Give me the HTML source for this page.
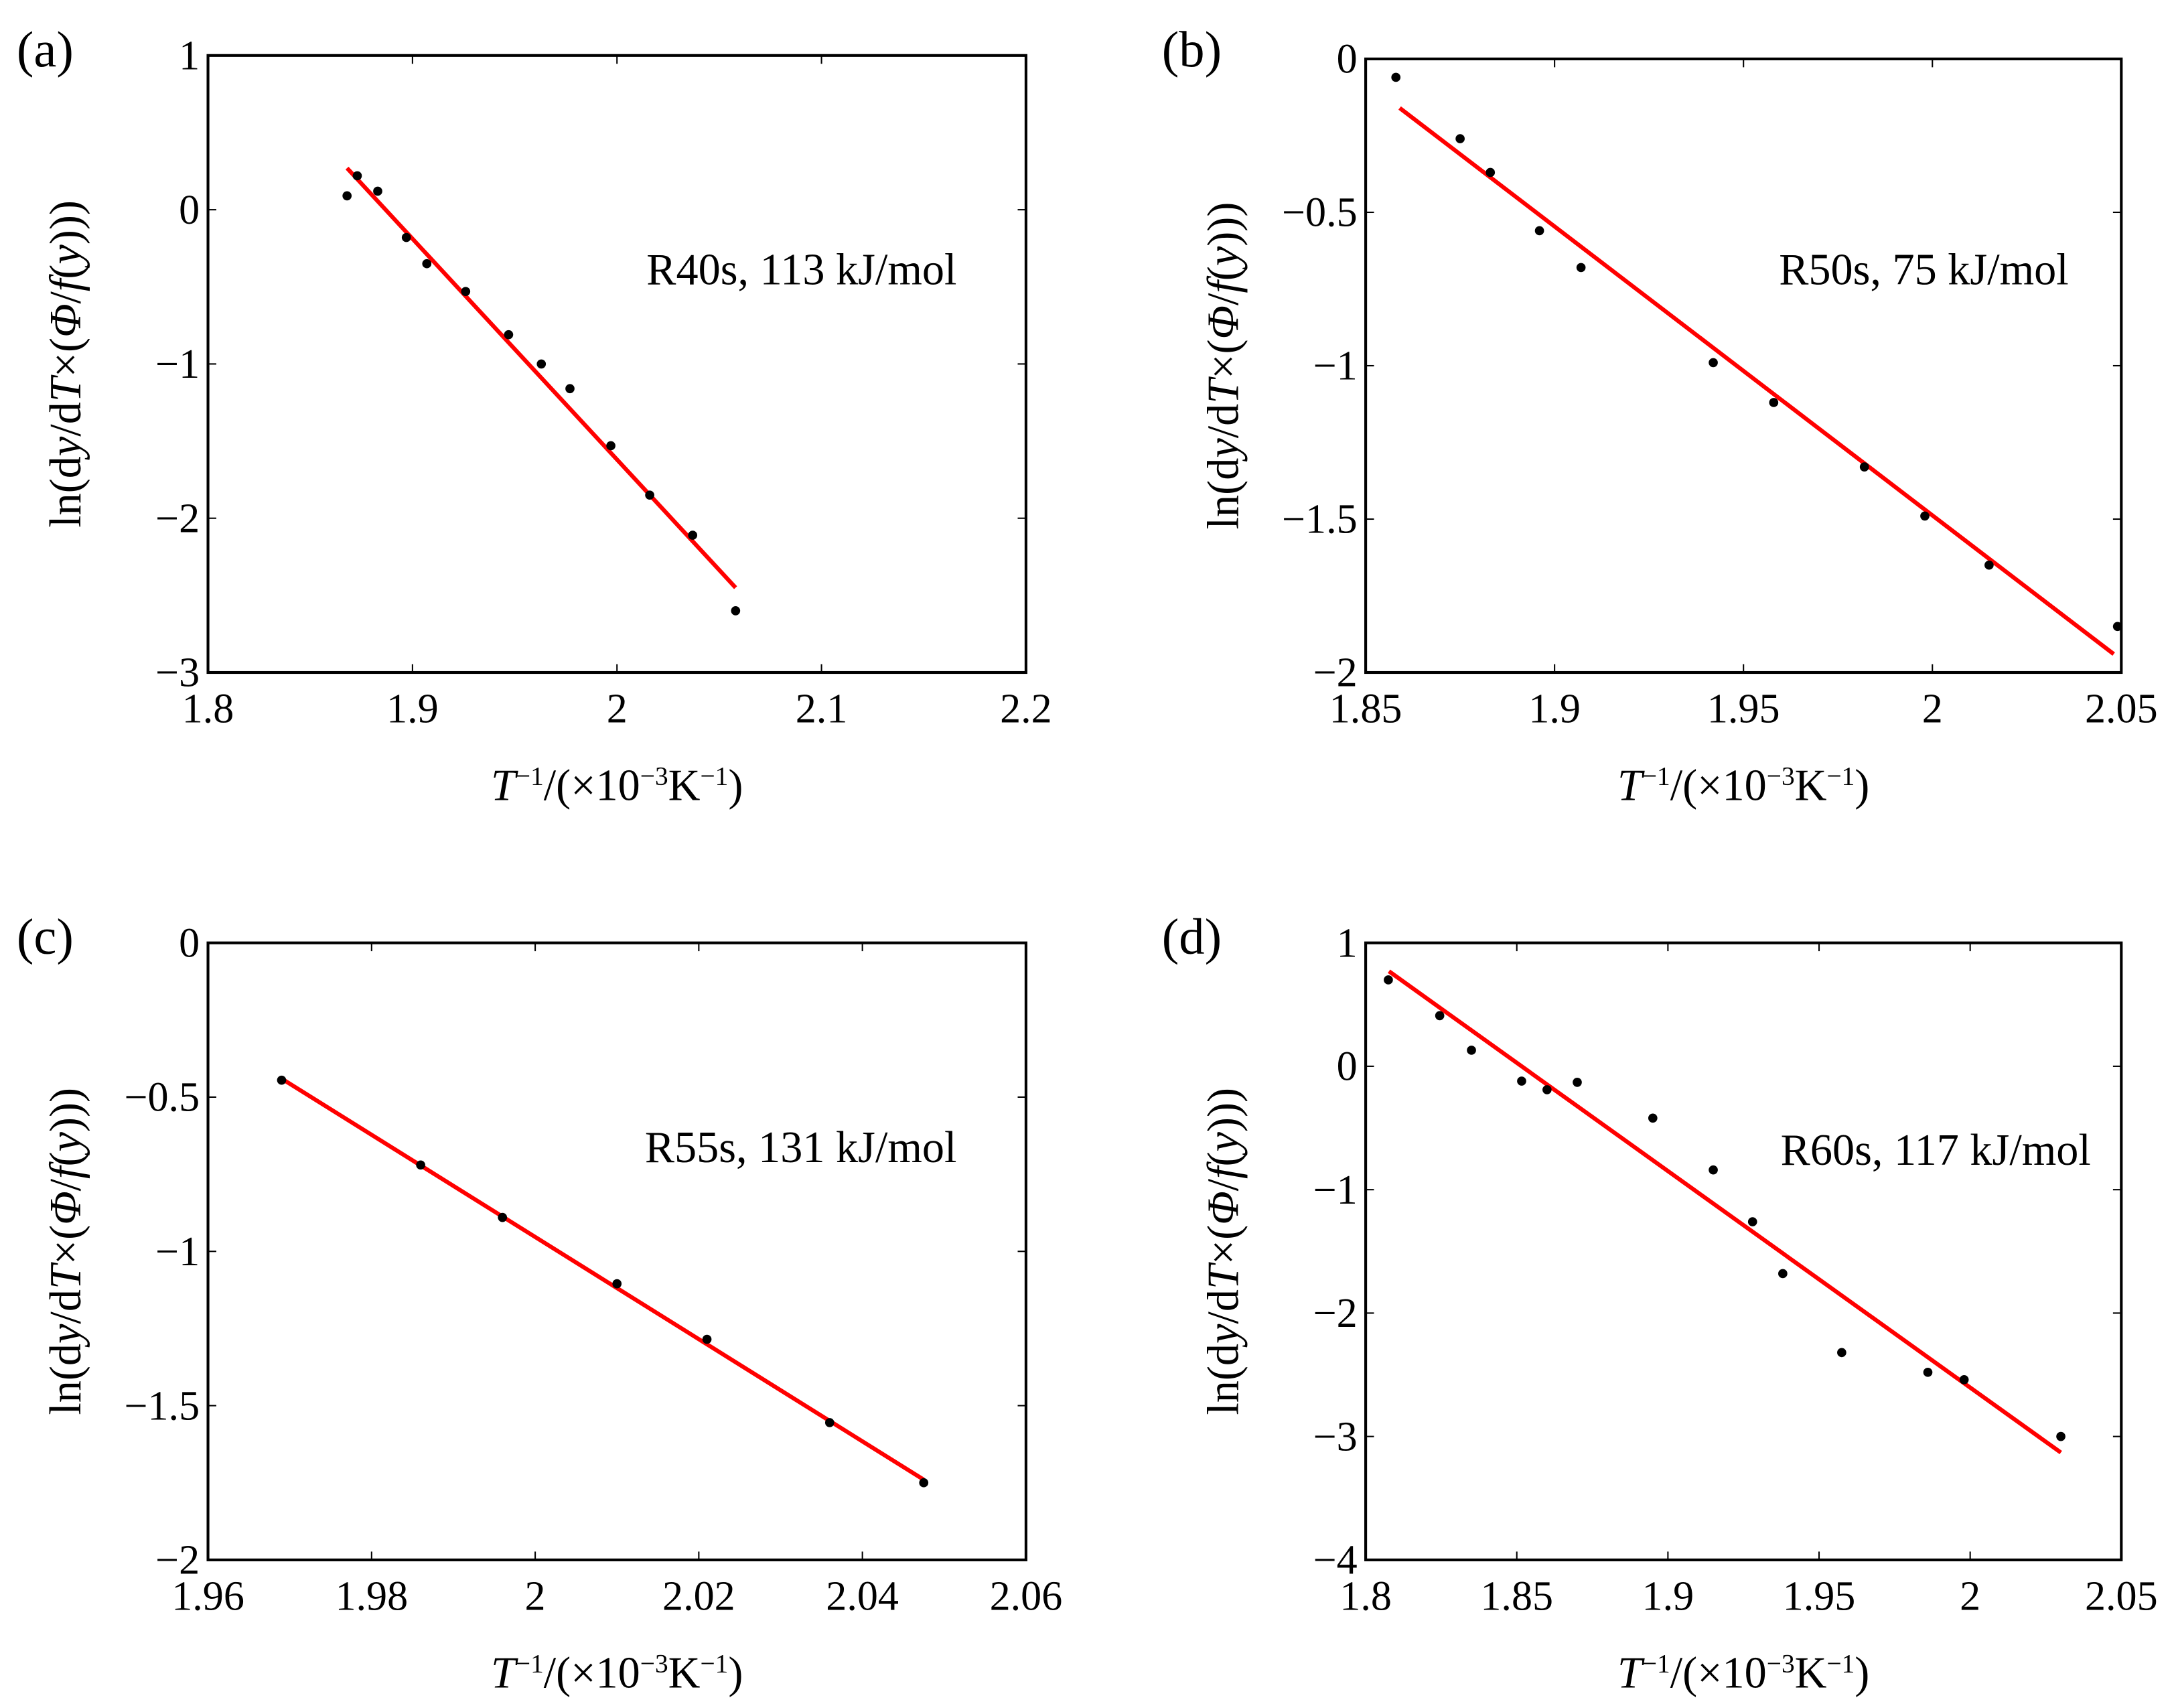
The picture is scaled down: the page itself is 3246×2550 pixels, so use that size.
<!DOCTYPE html>
<html><head><meta charset="utf-8"><style>
html,body{margin:0;padding:0;background:#fff;}
svg, svg text{font-family:"Liberation Serif","DejaVu Serif",serif;}
</style></head><body>
<svg id="fig" width="3246" height="2545" viewBox="0 0 1568 1229.4" font-family="Liberation Serif, serif" xmlns="http://www.w3.org/2000/svg"></svg>
<script>
// Panel (a)
const aX = [1.868,1.873,1.883,1.897,1.907,1.926,1.947,1.963,1.977,1.997,2.016,2.037,2.058];
const aY = [0.09,0.22,0.12,-0.18,-0.35,-0.53,-0.81,-1.0,-1.16,-1.53,-1.85,-2.11,-2.6];
const aFitX = [1.868,2.058];
const aFitY = [0.27,-2.45];
const aXTicks = [1.8,1.9,2,2.1,2.2];
const aYTicks = [1,0,-1,-2,-3];
// Panel (b)
const bX = [1.858,1.875,1.883,1.896,1.907,1.942,1.958,1.982,1.998,2.015,2.049];
const bY = [-0.06,-0.26,-0.37,-0.56,-0.68,-0.99,-1.12,-1.33,-1.49,-1.65,-1.85];
const bFitX = [1.859,2.048];
const bFitY = [-0.16,-1.94];
const bXTicks = [1.85,1.9,1.95,2,2.05];
const bYTicks = [0,-0.5,-1,-1.5,-2];
// Panel (c)
const cX = [1.969,1.986,1.996,2.010,2.021,2.036,2.0475];
const cY = [-0.445,-0.72,-0.89,-1.105,-1.285,-1.555,-1.75];
const cFitX = [1.969,2.0475];
const cFitY = [-0.44,-1.74];
const cXTicks = [1.96,1.98,2,2.02,2.04,2.06];
const cYTicks = [0,-0.5,-1,-1.5,-2];
// Panel (d)
const dX = [1.8075,1.8245,1.835,1.8516,1.860,1.870,1.895,1.915,1.928,1.938,1.9575,1.986,1.998,2.030];
const dY = [0.70,0.41,0.13,-0.12,-0.19,-0.13,-0.42,-0.84,-1.26,-1.68,-2.32,-2.48,-2.54,-3.0];
const dFitX = [1.8077,2.030];
const dFitY = [0.77,-3.13];
const dXTicks = [1.8,1.85,1.9,1.95,2,2.05];
const dYTicks = [1,0,-1,-2,-3,-4];

const NS='http://www.w3.org/2000/svg';
const svg=document.getElementById('fig');
function mk(tag,attrs,parent){const e=document.createElementNS(NS,tag);for(const k in attrs)e.setAttribute(k,attrs[k]);(parent||svg).appendChild(e);return e;}
const FF='Liberation Serif, serif';

const panels=[
 {id:'a',L:150,R:740,T:40,B:485,xmin:1.8,xmax:2.2,ymin:-3,ymax:1,X:aX,Y:aY,fx:aFitX,fy:aFitY,xt:aXTicks,yt:aYTicks,ann:'R40s, 113 kJ/mol',annX:690,annY:205,labX:12,labY:48},
 {id:'b',L:985,R:1530,T:42.5,B:485,xmin:1.85,xmax:2.05,ymin:-2,ymax:0,X:bX,Y:bY,fx:bFitX,fy:bFitY,xt:bXTicks,yt:bYTicks,ann:'R50s, 75 kJ/mol',annX:1492,annY:205,labX:838,labY:48},
 {id:'c',L:150,R:740,T:680,B:1125,xmin:1.96,xmax:2.06,ymin:-2,ymax:0,X:cX,Y:cY,fx:cFitX,fy:cFitY,xt:cXTicks,yt:cYTicks,ann:'R55s, 131 kJ/mol',annX:690,annY:838,labX:12,labY:688},
 {id:'d',L:985,R:1530,T:680,B:1125,xmin:1.8,xmax:2.05,ymin:-4,ymax:1,X:dX,Y:dY,fx:dFitX,fy:dFitY,xt:dXTicks,yt:dYTicks,ann:'R60s, 117 kJ/mol',annX:1508,annY:840,labX:838,labY:688}
];

panels.forEach(p=>{
 const g=mk('g',{'font-family':FF});
 
 
 const sx=v=>p.L+(v-p.xmin)/(p.xmax-p.xmin)*(p.R-p.L);
 const sy=v=>p.B-(v-p.ymin)/(p.ymax-p.ymin)*(p.B-p.T);
 const box=mk('rect',{x:p.L,y:p.T,width:p.R-p.L,height:p.B-p.T,fill:'none',stroke:'#000','stroke-width':2},g);
 
 
 p.xt.forEach(v=>{
  const x=sx(v);
  mk('line',{x1:x,y1:p.B,x2:x,y2:p.B-6,stroke:'#000','stroke-width':1},g);
  mk('line',{x1:x,y1:p.T,x2:x,y2:p.T+6,stroke:'#000','stroke-width':1},g);
  const t=mk('text',{x:x,y:p.B+36,'text-anchor':'middle','font-size':30,'font-family':FF},g);
  t.textContent=String(v);
  
  
 });
 p.yt.forEach(v=>{
  const y=sy(v);
  mk('line',{x1:p.L,y1:y,x2:p.L+6,y2:y,stroke:'#000','stroke-width':1},g);
  mk('line',{x1:p.R,y1:y,x2:p.R-6,y2:y,stroke:'#000','stroke-width':1},g);
  const t=mk('text',{x:p.L-6,y:y+10,'text-anchor':'end','font-size':30,'font-family':FF},g);
  t.textContent=String(v).replace('-','\u2212');
  
  
 });
 const fit=mk('line',{x1:sx(p.fx[0]),y1:sy(p.fy[0]),x2:sx(p.fx[1]),y2:sy(p.fy[1]),stroke:'#ff0000','stroke-width':3},g);
 
 
 p.X.forEach((v,i)=>{
  const c=mk('circle',{cx:sx(v),cy:sy(p.Y[i]),r:3.3,fill:'#000'},g);
  
  
 });
 const an=mk('text',{x:p.annX,y:p.annY,'text-anchor':'end','font-size':32,'font-family':FF},g);
 an.textContent=p.ann;
 
 
 const lb=mk('text',{x:p.labX,y:p.labY,'font-size':37,'font-family':FF},g);
 lb.textContent='('+p.id+')';
 
 
 const cx=(p.L+p.R)/2;
 const xl=mk('text',{x:cx,y:p.B+92,'text-anchor':'middle','font-size':32,'font-family':FF},g);
 xl.innerHTML='<tspan font-style="italic">T</tspan><tspan dy="-11" font-size="19">\u22121</tspan><tspan dy="11">/(\u00d710</tspan><tspan dy="-11" font-size="19">\u22123</tspan><tspan dy="11">K</tspan><tspan dy="-11" font-size="19">\u22121</tspan><tspan dy="11">)</tspan>';
 
 
 const cy=(p.T+p.B)/2;
 const ax=p.L-92;
 const yl=mk('text',{x:ax,y:cy,'text-anchor':'middle','font-size':32,'font-family':FF,transform:'rotate(-90 '+ax+' '+cy+')'},g);
 yl.innerHTML='ln(d<tspan font-style="italic">y</tspan>/d<tspan font-style="italic">T</tspan>\u00d7(<tspan font-style="italic">\u03a6</tspan>/<tspan font-style="italic">f</tspan>(<tspan font-style="italic">y</tspan>)))';
 
 
});
</script>
</body></html>
